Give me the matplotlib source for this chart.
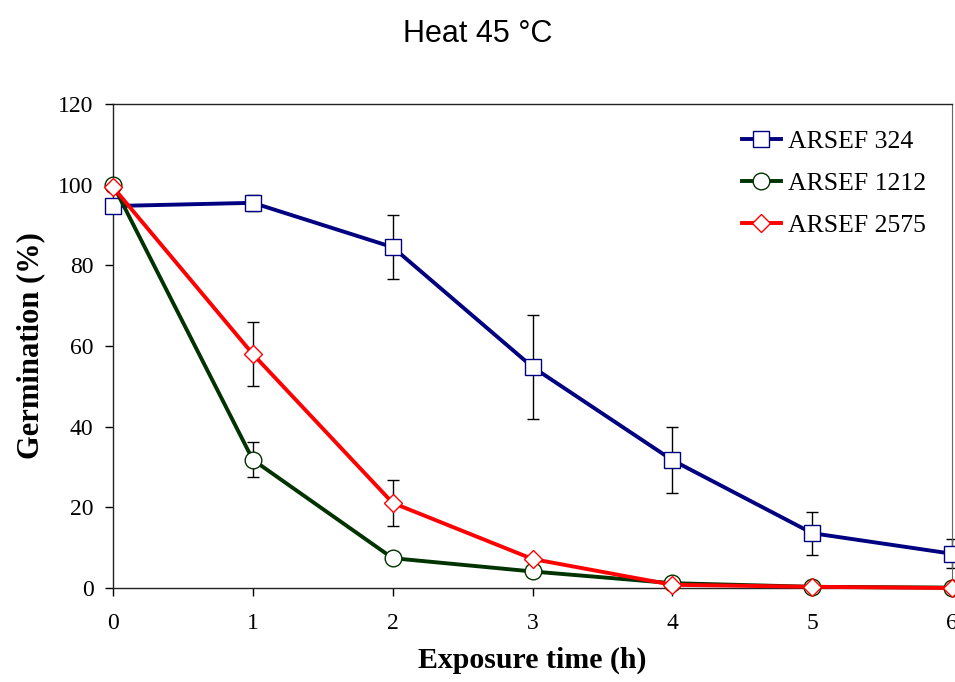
import matplotlib.pyplot as plt
import numpy as np

# Data
hours = [0, 1, 2, 3, 4, 5, 6]
labels = ["ARSEF 324", "ARSEF 1212", "ARSEF 2575"]
germ_324 = [94.7, 95.5, 84.5, 54.8, 31.7, 13.6, 8.5]
err_324 = [0, 2.0, 8.0, 13.0, 8.2, 5.3, 3.6]
germ_1212 = [100.0, 31.8, 7.4, 4.1, 1.2, 0.3, 0.1]
err_1212 = [0, 4.3, 0, 0, 0, 0, 0]
germ_2575 = [99.4, 58.0, 21.1, 7.2, 0.8, 0.3, 0.0]
err_2575 = [0, 8.0, 5.6, 0, 0, 0, 0]

plt.rcParams['font.family'] = ['Liberation Serif', 'DejaVu Serif']

fig = plt.figure(figsize=(9.55, 6.82), dpi=100)
ax = fig.add_axes([0.1183, 0.1378, 0.8786, 0.7097])

series = [
    (germ_324, err_324, '#000080', '#000080', 's', 12),
    (germ_1212, err_1212, '#003300', '#003300', 'o', 12),
    (germ_2575, err_2575, '#ff0000', '#ff0000', 'D', 9),
]

for (vals, errs, lc, mc, mk, ms), lab in zip(series, labels):
    ax.errorbar(hours, vals, yerr=errs, fmt='none', ecolor='black',
                elinewidth=1, capsize=4, capthick=1, zorder=2, clip_on=False)
    ax.plot(hours, vals, color=lc, linewidth=2.8, marker=mk, markersize=ms,
            markerfacecolor='white', markeredgecolor=mc, markeredgewidth=1,
            label=lab, zorder=3, clip_on=False)

ax.set_xlim(0, 6)
ax.set_ylim(0, 120)
ax.set_xticks(np.arange(0, 7, 1))
ax.set_yticks(np.arange(0, 121, 20))
ax.tick_params(direction='out', length=6, width=1, labelsize=17)
ax.tick_params(axis='y', pad=8)
ax.tick_params(axis='x', pad=12)
ax.tick_params(top=False, right=False)

for s in ['left', 'bottom', 'top']:
    ax.spines[s].set_color('#222222')
    ax.spines[s].set_linewidth(1)
ax.spines['right'].set_color('#666666')
ax.spines['right'].set_linewidth(0.8)

ax.set_xlabel('Exposure time (h)', fontsize=21.5, fontweight='bold', labelpad=9)
ax.set_ylabel('Germination (%)', fontsize=22, fontweight='bold', labelpad=9)
fig.text(0.5, 0.95, 'Heat 45 °C', ha='center', va='center', fontsize=22,
         family=['Liberation Sans', 'DejaVu Sans'])

leg = ax.legend(loc='upper right', frameon=False, fontsize=18.5, handlelength=1.5,
                handletextpad=0.3, labelspacing=0.75, borderaxespad=0.6)

fig.savefig('out.png', dpi=100)
